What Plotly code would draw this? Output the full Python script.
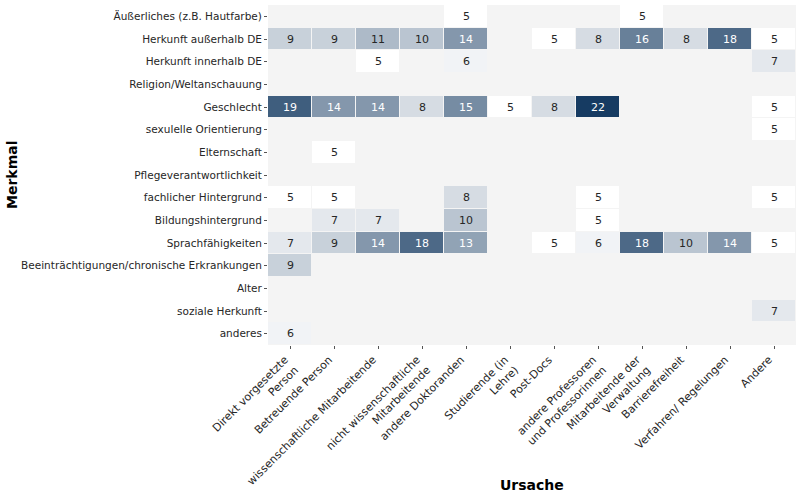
import plotly.graph_objects as go

ursache = [
    "Direkt vorgesetzte<br>Person",
    "Betreuende Person",
    "wissenschaftliche Mitarbeitende",
    "nicht wissenschaftliche<br>Mitarbeitende",
    "andere Doktoranden",
    "Studierende (in<br>Lehre)",
    "Post-Docs",
    "andere Professoren<br>und Professorinnen",
    "Mitarbeitende der<br>Verwaltung",
    "Barrierefreiheit",
    "Verfahren/ Regelungen",
    "Andere",
]

merkmal = [
    "Äußerliches (z.B. Hautfarbe)",
    "Herkunft außerhalb DE",
    "Herkunft innerhalb DE",
    "Religion/Weltanschauung",
    "Geschlecht",
    "sexulelle Orientierung",
    "Elternschaft",
    "Pflegeverantwortlichkeit",
    "fachlicher Hintergrund",
    "Bildungshintergrund",
    "Sprachfähigkeiten",
    "Beeinträchtigungen/chronische Erkrankungen",
    "Alter",
    "soziale Herkunft",
    "anderes",
]

N = None
row_aeusserliches = [N, N, N, N, 5, N, N, N, 5, N, N, N]
row_herkunft_ausserhalb = [9, 9, 11, 10, 14, N, 5, 8, 16, 8, 18, 5]
row_herkunft_innerhalb = [N, N, 5, N, 6, N, N, N, N, N, N, 7]
row_religion = [N] * 12
row_geschlecht = [19, 14, 14, 8, 15, 5, 8, 22, N, N, N, 5]
row_sexuelle = [N, N, N, N, N, N, N, N, N, N, N, 5]
row_elternschaft = [N, 5, N, N, N, N, N, N, N, N, N, N]
row_pflege = [N] * 12
row_fachlich = [5, 5, N, N, 8, N, N, 5, N, N, N, 5]
row_bildung = [N, 7, 7, N, 10, N, N, 5, N, N, N, N]
row_sprache = [7, 9, 14, 18, 13, N, 5, 6, 18, 10, 14, 5]
row_beeintr = [9, N, N, N, N, N, N, N, N, N, N, N]
row_alter = [N] * 12
row_sozial = [N, N, N, N, N, N, N, N, N, N, N, 7]
row_anderes = [6, N, N, N, N, N, N, N, N, N, N, N]

z = [
    row_aeusserliches, row_herkunft_ausserhalb, row_herkunft_innerhalb, row_religion,
    row_geschlecht, row_sexuelle, row_elternschaft, row_pflege, row_fachlich,
    row_bildung, row_sprache, row_beeintr, row_alter, row_sozial, row_anderes,
]

fig = go.Figure(
    go.Heatmap(
        z=z,
        x=ursache,
        y=merkmal,
        colorscale=[[0, "#ffffff"], [1, "#163b62"]],
        zmin=5,
        zmax=22,
        showscale=False,
        xgap=1,
        ygap=1,
        hoverongaps=False,
    )
)

annotations = []
for i, row in enumerate(z):
    for j, v in enumerate(row):
        if v is None:
            continue
        annotations.append(
            dict(
                x=ursache[j],
                y=merkmal[i],
                text=str(v),
                showarrow=False,
                font=dict(size=11, color="#ffffff" if v >= 13 else "#262626",
                          family="DejaVu Sans"),
            )
        )

annotations.append(dict(
    text="<b>Ursache</b>", xref="paper", yref="paper", x=0.5, y=0,
    xanchor="center", yanchor="middle",
    yshift=-140, showarrow=False, font=dict(size=14, color="#000000"),
))
annotations.append(dict(
    text="<b>Merkmal</b>", xref="paper", yref="paper", x=0, y=0.5,
    xanchor="center", yanchor="middle",
    xshift=-256, textangle=-90, showarrow=False, font=dict(size=14, color="#000000"),
))

fig.update_layout(
    width=800,
    height=499,
    margin=dict(l=268, r=4, t=5, b=154),
    paper_bgcolor="#ffffff",
    plot_bgcolor="#f4f4f4",
    font=dict(family="DejaVu Sans", size=10.5, color="#262626"),
    annotations=annotations,
)
fig.update_xaxes(
    tickangle=-45,
    ticks="outside",
    ticklen=3,
    tickcolor="#555555",
    showgrid=False,
    zeroline=False,
    automargin=False,
    ticklabelshift=-5,
    tickfont=dict(size=11),
)
fig.update_yaxes(
    autorange="reversed",
    ticks="outside",
    ticklen=3,
    tickcolor="#555555",
    showgrid=False,
    zeroline=False,
    automargin=False,
    tickfont=dict(size=10.5),
)

fig.write_html(
    "out.html",
    config={"displayModeBar": False},
    post_script="document.body.style.margin='0';document.body.style.overflow='hidden';",
)
